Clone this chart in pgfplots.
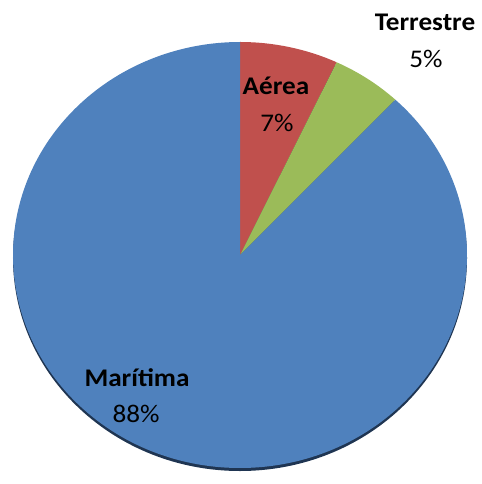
\documentclass[border=0pt]{standalone}
\usepackage{pgfplots}
\pgfplotsset{compat=1.18}
\usepackage{pgfplotstable}
\usepackage{graphicx}
\usepackage{fontspec}
\setmainfont{Carlito}
\definecolor{cRed}{HTML}{C0504D}
\definecolor{cGreen}{HTML}{9BBB59}
\definecolor{cBlue}{HTML}{4F81BD}
\definecolor{cRim}{HTML}{1F3552}
\pgfplotstableread{
label value
Aerea 7
Terrestre 5
Maritima 88
}\piedata
\pgfplotstablegetelem{0}{value}\of\piedata \let\va\pgfplotsretval
\pgfplotstablegetelem{1}{value}\of\piedata \let\vb\pgfplotsretval
\pgfplotstablegetelem{2}{value}\of\piedata \let\vc\pgfplotsretval
\pgfmathsetmacro\aA{90}
\pgfmathsetmacro\aB{\aA-3.6*\va}
\pgfmathsetmacro\aC{\aB-3.6*\vb}
\pgfmathsetmacro\aD{\aC-3.6*\vc}
\newcommand\lb[1]{\scalebox{1.07}[1]{#1}}
\begin{document}
\begin{tikzpicture}
\begin{axis}[
  x=1bp, y=-1bp,
  xmin=0, xmax=482, ymin=0, ymax=484,
  hide axis, clip=false,
]
\coordinate (BL) at (axis cs:0,484);
\coordinate (TR) at (axis cs:482,0);
% rim / shadow
\fill[cRim] (axis cs:240,258) ellipse [x radius=227bp, y radius=213bp];
% slices
\fill[cRed] (axis cs:240,255) -- ++(\aA:227bp and 213bp)
  arc[start angle=\aA, end angle=\aB, x radius=227bp, y radius=213bp] -- cycle;
\fill[cGreen] (axis cs:240,255) -- ++(\aB:227bp and 213bp)
  arc[start angle=\aB, end angle=\aC, x radius=227bp, y radius=213bp] -- cycle;
\fill[cBlue] (axis cs:240,255) -- ++(\aC:227bp and 213bp)
  arc[start angle=\aC, end angle=\aD, x radius=227bp, y radius=213bp] -- cycle;
% labels
\tikzset{lab/.style={anchor=center, inner sep=0pt, font=\fontsize{25.5}{30}\selectfont}}
\node[lab] at (axis cs:425,22) {\lb{\bfseries Terrestre}};
\node[lab] at (axis cs:426,59) {\lb{5\%}};
\node[lab] at (axis cs:276,86) {\lb{\bfseries Aérea}};
\node[lab] at (axis cs:277,123) {\lb{7\%}};
\node[lab] at (axis cs:137,378) {\lb{\bfseries Marítima}};
\node[lab] at (axis cs:136,414) {\lb{88\%}};
\end{axis}
\pgfresetboundingbox
\path (BL) rectangle (TR);
\end{tikzpicture}
\end{document}
